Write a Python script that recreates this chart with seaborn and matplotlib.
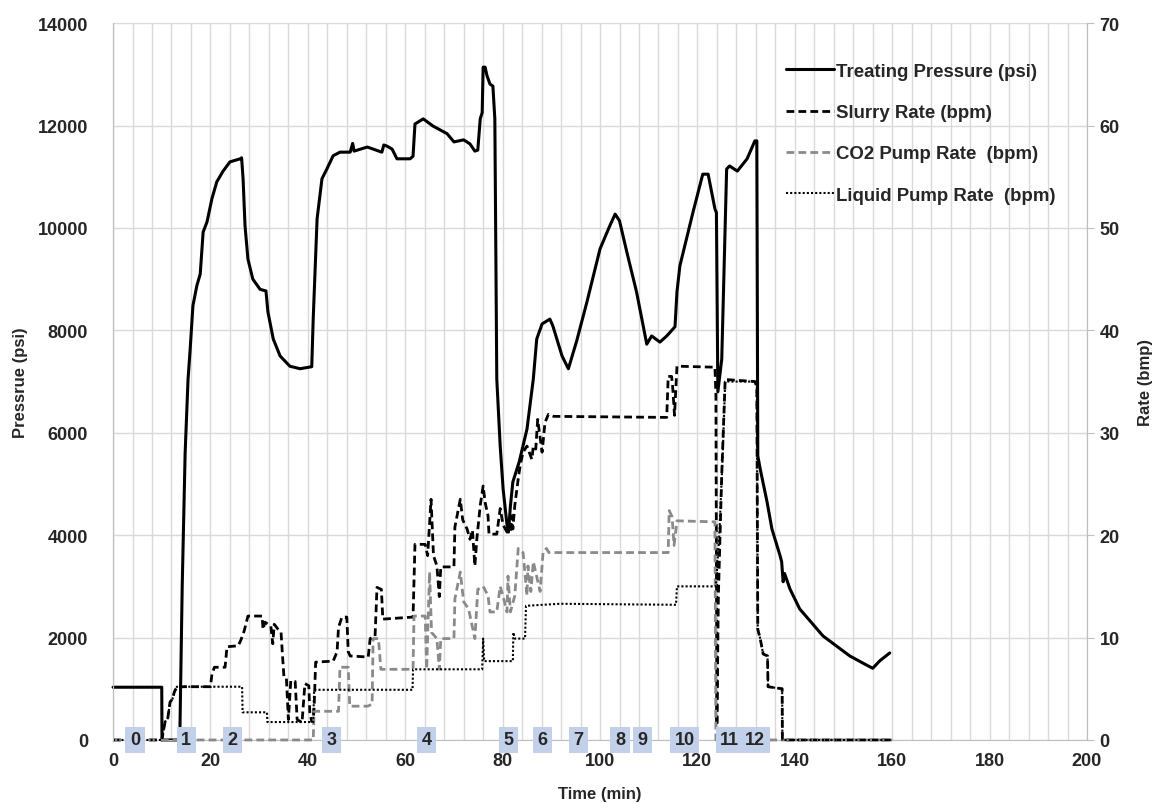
import matplotlib
matplotlib.use("Agg")
import matplotlib.pyplot as plt
import seaborn as sns
import pandas as pd
from matplotlib.ticker import MultipleLocator

# --- valores (tempo em min)
p_t = [0, 10, 10.05, 13.7, 14.2, 14.8, 15.4, 15.8, 16.4, 17.2, 17.9, 18.5, 19.3, 20.3, 21.3, 22.6, 24,
       26.1, 26.4, 26.7, 27.1, 27.7, 28.7, 30.2, 31.4, 31.8, 32.9, 34.3, 36.3, 38.4, 40.8, 41.1, 41.9,
       42.9, 43.9, 45.2, 46.6, 48.7, 49.2, 49.5, 52.2, 55.2, 55.6, 56.2, 57.3, 58.3, 61, 61.6, 62, 63.7,
       65.7, 68.6, 70, 72, 73.3, 74.3, 74.9, 75.4, 75.8, 76, 76.4, 76.8, 77.4, 78, 78.4, 78.8, 79.5,
       80.1, 80.9, 81.2, 81.6, 82.1, 83.4, 85, 86.3, 87, 88.1, 89.7, 90.3, 92.2, 93.5, 95.2, 97.3, 100,
       102, 103.1, 104, 105.5, 107.5, 109.6, 110.6, 112.3, 113.7, 115.4, 115.8, 116.4, 119.1, 121.1,
       122.2, 123.6, 123.9, 124.2, 125, 126, 126.6, 128.2, 130.2, 131.8, 132.2, 132.4, 132.9, 134.3,
       135.3, 137, 137.3, 137.6, 137.9, 139, 141, 145.8, 151.3, 154.4, 156, 157.5, 159.5]
pressure = [1030, 1030, 0, 0, 3000, 5600, 7050, 7580, 8480, 8870, 9100, 9920, 10120, 10570, 10900, 11110,
            11290, 11350, 11370, 10960, 10040, 9390, 9000, 8800, 8770, 8360, 7830, 7500, 7300, 7250, 7290,
            8220, 10180, 10960, 11150, 11410, 11480, 11480, 11650, 11500, 11580, 11480, 11620, 11600, 11540,
            11350, 11350, 11400, 12030, 12130, 11990, 11840, 11680, 11720, 11640, 11500, 11520, 12130, 12250,
            13140, 13140, 12970, 12810, 12770, 12130, 7050, 5740, 4900, 4200, 4060, 4570, 5040, 5430, 6070,
            7050, 7830, 8125, 8220, 8090, 7500, 7250, 7790, 8550, 9590, 10040, 10270, 10140, 9530, 8750,
            7730, 7890, 7770, 7890, 8070, 8750, 9260, 10310, 11050, 11050, 10370, 10300, 6800, 7440, 11150,
            11210, 11110, 11350, 11700, 11700, 5550, 5290, 4650, 4120, 3590, 3480, 3090, 3250, 2950, 2560,
            2030, 1640, 1480, 1400, 1550, 1700]

s_t = [0, 10, 10.7, 11.2, 11.7, 12.2, 12.6, 13.1, 20, 20.3, 20.8, 23, 23.4, 25.7, 26.2, 26.9, 27.7, 30.6,
       30.8, 31.2, 32.4, 32.8, 33.1, 33.9, 34.5, 34.8, 35.1, 35.6, 36, 36.5, 37.4, 37.8, 38.8, 39.4, 40.2,
       40.4, 40.8, 41.1, 41.3, 41.6, 45.2, 46, 46.3, 47, 48, 48.3, 48.7, 52.4, 52.8, 53.8, 54.2, 55.1, 55.4,
       61.6, 62, 64.1, 64.6, 65.3, 65.8, 66.5, 67, 67.3, 70, 70.2, 71.3, 71.8, 72.7, 73.3, 73.8, 74.3, 74.7,
       75.4, 76, 76.4, 77, 77.2, 78.8, 79.5, 80.1, 80.9, 81.6, 81.9, 82.1, 82.5, 83.2, 83.6, 84.2, 85, 86,
       86.3, 86.8, 87.2, 88.1, 88.7, 89.4, 90.5, 113.7, 114, 114.7, 114.9, 115.3, 115.8, 123.6, 123.8,
       124, 124.3, 125, 125.7, 131.8, 132.2, 132.4, 132.9, 133.5, 134.4, 134.5, 137.4, 137.45, 160]
slurry = [0, 0, 1.8, 2, 3.7, 4, 4.7, 5.2, 5.2, 6.4, 7.1, 7.1, 9.1, 9.2, 9.7, 10.6, 12.1, 12.1, 10.8, 11.5,
          11.1, 9.4, 11.3, 10.8, 10.5, 8.2, 6.1, 6, 2, 5.8, 5.7, 2, 1.7, 5.5, 5.3, 2.7, 1.8, 1.8, 3.3, 7.6,
          7.7, 8.6, 11, 12, 12, 8.6, 8.2, 8.1, 9.9, 10.1, 14.9, 14.7, 11.8, 12, 19.1, 19.1, 18, 23.5, 18, 17,
          14, 16.9, 16.9, 20.8, 23.5, 21.5, 20.6, 19.6, 20.5, 17, 19.6, 22.9, 24.8, 23.2, 21.9, 20.1, 20.1,
          22.6, 21, 20.3, 20.3, 21.9, 20.6, 22.9, 25.5, 26.8, 28.1, 28.7, 27.4, 28.7, 28.4, 31.3, 28.1, 31,
          31.8, 31.6, 31.5, 35.5, 35.5, 34.6, 31.7, 36.5, 36.4, 33.6, 1.4, 14, 26, 35.2, 35, 34.5, 10.8, 9.9,
          8.4, 8.2, 5.2, 5.0, 0, 0]

c_t = [0, 41.1, 41.3, 46.3, 46.6, 48.3, 48.6, 52.3, 53.2, 53.4, 54.5, 55, 61.6, 61.8, 64.1, 64.4, 65, 65.4,
       66.5, 67, 67.3, 70, 70.2, 71.3, 72, 73, 74.3, 74.9, 76, 77, 77.4, 78.8, 79.5, 80.1, 80.9, 81.1, 81.6,
       82.5, 83.2, 84.2, 85, 85.2, 85.8, 86.3, 87.7, 88.3, 89, 89.5, 114, 114.2, 114.8, 115.2, 115.8, 123.6,
       123.8, 160]
co2 = [0, 0, 2.8, 2.8, 7.1, 7.1, 3.3, 3.3, 3.5, 9.9, 9.9, 6.9, 6.9, 12.1, 12.1, 6.9, 16.4, 10.5, 9.9, 6.9,
       9.9, 9.9, 13.8, 16.4, 13.5, 12.8, 9.9, 14.7, 15, 14.1, 12.5, 12.5, 15, 14, 12.5, 16, 12.5, 14.1, 18.7,
       18.3, 14.1, 17, 14.5, 17.4, 14.5, 18.3, 18.7, 18.3, 18.3, 22.4, 21.8, 19, 21.4, 21.3, 0, 0]

l_t = [0, 10, 10.7, 11.2, 11.7, 12.2, 12.6, 13.1, 26.5, 26.6, 31.6, 31.7, 41.1, 41.3, 61.5, 61.6, 75.8, 76,
       76.2, 82.1, 82.2, 82.5, 84.6, 84.8, 91.8, 115.6, 115.8, 123.8, 124.5, 125.2, 125.7, 131.8, 132.2,
       132.4, 132.9, 133.5, 134.4, 134.5, 137.4, 137.45, 160]
liquid = [0, 0, 1.8, 2, 3.7, 4, 4.7, 5.2, 5.2, 2.7, 2.7, 1.75, 1.75, 4.9, 4.9, 6.9, 6.9, 9.9, 7.7, 7.7, 10.5,
          9.9, 9.9, 13.1, 13.3, 13.2, 15, 15, 20, 28, 35, 35, 34.5, 10.8, 9.9, 8.4, 8.2, 5.2, 5.0, 0, 0]

stage_labels = ["0", "1", "2", "3", "4", "5", "6", "7", "8", "9", "10", "11", "12"]
stage_t = [4.5, 15, 24.6, 44.8, 64.4, 81.2, 88.1, 95.5, 104.1, 108.7, 117.4, 126.6, 131.9]

sns.set_style("white")
plt.rcParams['font.family'] = ['Liberation Sans', 'DejaVu Sans']

fig, ax = plt.subplots(figsize=(11.56, 8.04), dpi=100)
fig.subplots_adjust(left=0.0978, right=0.9403, top=0.970, bottom=0.0784)
ax2 = ax.twinx()

df_p = pd.DataFrame({'t': p_t, 'v': pressure})
df_s = pd.DataFrame({'t': s_t, 'v': slurry})
df_c = pd.DataFrame({'t': c_t, 'v': co2})
df_l = pd.DataFrame({'t': l_t, 'v': liquid})

sns.lineplot(data=df_p, x='t', y='v', ax=ax, estimator=None, sort=False, color='black',
             linewidth=2.2, label='Treating Pressure (psi)', legend=False, clip_on=False)
sns.lineplot(data=df_s, x='t', y='v', ax=ax2, estimator=None, sort=False, color='black',
             linewidth=2.0, linestyle=(0, (2.8, 1.5)), label='Slurry Rate (bpm)', legend=False, clip_on=False)
sns.lineplot(data=df_c, x='t', y='v', ax=ax2, estimator=None, sort=False, color='#8a8a8a',
             linewidth=2.0, linestyle=(0, (2.8, 1.5)), label='CO2 Pump Rate  (bpm)', legend=False, clip_on=False)
sns.lineplot(data=df_l, x='t', y='v', ax=ax2, estimator=None, sort=False, color='black',
             linewidth=1.5, linestyle=(0, (1, 1)), label='Liquid Pump Rate  (bpm)', legend=False, clip_on=False)

ax.set_xlim(0, 200)
ax.set_ylim(0, 14000)
ax2.set_ylim(0, 70)
ax.xaxis.set_major_locator(MultipleLocator(20))
ax.xaxis.set_minor_locator(MultipleLocator(4))
ax.yaxis.set_major_locator(MultipleLocator(2000))
ax2.yaxis.set_major_locator(MultipleLocator(10))

ax.set_axisbelow(True)
ax.grid(which='both', axis='x', color='#d9d9d9', linewidth=1)
ax.grid(which='major', axis='y', color='#d9d9d9', linewidth=1)
ax2.grid(False)

for a in (ax, ax2):
    for side in ('top', 'bottom'):
        a.spines[side].set_visible(False)
    a.spines['left'].set_color('#bfbfbf')
    a.spines['right'].set_color('#bfbfbf')
ax.spines['bottom'].set_visible(True)
ax.spines['bottom'].set_color('#bfbfbf')

ax.tick_params(axis='x', which='both', length=0, pad=9, labelsize=13)
ax.tick_params(axis='y', which='both', length=0, pad=18, labelsize=13)
ax2.tick_params(axis='y', length=5, color='#bfbfbf', pad=4, labelsize=13)
for lab in ax.get_xticklabels() + ax.get_yticklabels() + ax2.get_yticklabels():
    lab.set_fontweight('bold')

ax.set_xlabel('Time (min)', fontsize=12, fontweight='bold', labelpad=12)
ax.set_ylabel('Pressrue (psi)', fontsize=12, fontweight='bold', labelpad=7)
ax2.set_ylabel('Rate (bmp)', fontsize=12, fontweight='bold', labelpad=13)

# caixas dos estágios
for lab, t in zip(stage_labels, stage_t):
    ax2.text(t, 0, lab, transform=ax2.get_xaxis_transform(), ha='center', va='center',
             fontsize=13, fontweight='bold', zorder=10, clip_on=False,
             bbox=dict(boxstyle='square,pad=0.25', fc='#c3d0ea', ec='none'))

h1, l1 = ax.get_legend_handles_labels()
h2, l2 = ax2.get_legend_handles_labels()
leg = ax2.legend(h1 + h2, l1 + l2, loc='upper right', bbox_to_anchor=(0.985, 0.968), frameon=False,
                 handlelength=2.6, handletextpad=0.1, labelspacing=1.3,
                 prop=dict(weight='bold', size=13.4))

fig.savefig('out.png', dpi=100)
